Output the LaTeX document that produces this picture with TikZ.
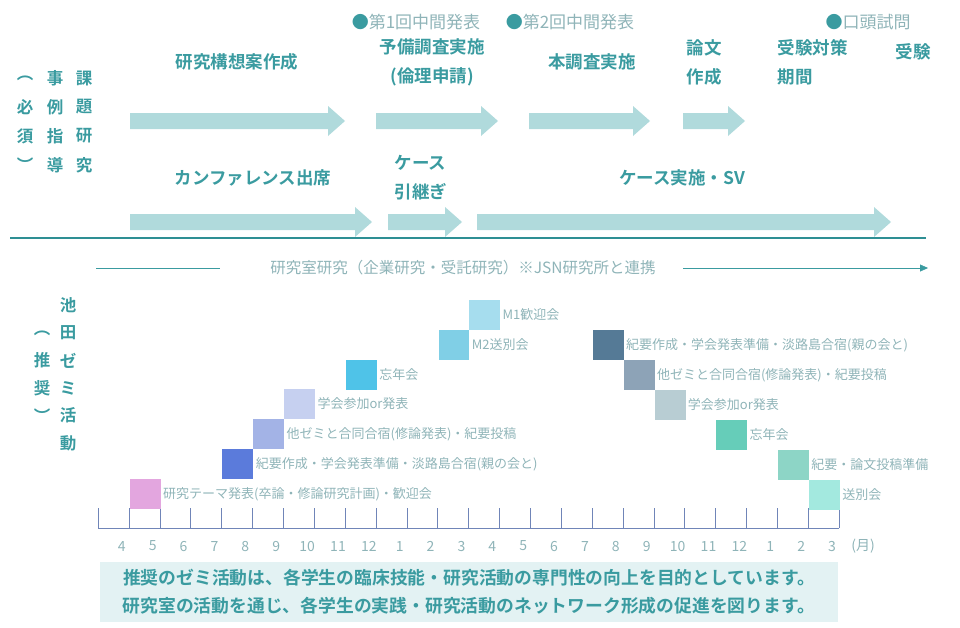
\documentclass[tikz,border=0pt]{standalone}
\usepackage{fontspec}
\setmainfont{Noto Sans CJK JP}[BoldFont={Noto Sans CJK JP Bold}]
\usetikzlibrary{arrows.meta}
\definecolor{teal1}{HTML}{3A9BA0}
\definecolor{teal2}{HTML}{2E8F94}
\definecolor{arw}{HTML}{B0DADC}
\definecolor{gry}{HTML}{8FB4B8}
\definecolor{boxbg}{HTML}{E3F2F3}
\definecolor{tick}{HTML}{7085B8}
\newcommand{\fatarrow}[3]{% x1, x2, y
  \fill[arw] (#1,#3-8) -- (#2-17,#3-8) -- (#2-17,#3-15) -- (#2,#3) -- (#2-17,#3+15) -- (#2-17,#3+8) -- (#1,#3+8) -- cycle;}

\begin{document}
\begin{tikzpicture}[x=1pt,y=-1pt,
    lbl/.style={text=teal1,font={\fontsize{17.5}{29}\selectfont\bfseries}},
    milestone/.style={text=gry,font={\fontsize{17}{20}\selectfont}},
    vtxt/.style={text=teal1,font={\fontsize{16.5}{18}\selectfont\bfseries},align=center},
    sq/.style={minimum width=30.9pt,minimum height=30pt,inner sep=0pt,draw=none},
    ev/.style={text=gry,font={\fontsize{13}{15}\selectfont},anchor=west,inner sep=2pt}]
  \useasboundingbox (0,0) rectangle (960,627);

  % left headings
  \foreach \c [count=\i] in {︵,必,須,︶} \node[vtxt] (a\i) at (25,49+29*\i) {\c};
  \foreach \c [count=\i] in {事,例,指,導} \node[vtxt] (b\i) at (55,49+29*\i) {\c};
  \foreach \c [count=\i] in {課,題,研,究} \node[vtxt] (c\i) at (84,49+29*\i) {\c};

  % milestones
  \node[milestone] (m1) at (416,22) {\textcolor{teal1}{●}第1回中間発表};
  \node[milestone] (m2) at (570,22) {\textcolor{teal1}{●}第2回中間発表};
  \node[milestone] (m3) at (868,22) {\textcolor{teal1}{●}口頭試問};

  % first row
  \node[lbl] (t1) at (237,62) {研究構想案作成};
  \node[lbl,align=center] (t2) at (432,62) {予備調査実施\\(倫理申請)};
  \node[lbl] (t3) at (592,62) {本調査実施};
  \node[lbl,align=center] (t4) at (704,62) {論文\\作成};
  \node[lbl,align=left,anchor=west] (t5) at (774,62) {受験対策\\期間};
  \node[lbl] (t6) at (913,52) {受験};
  \fatarrow{130}{345}{121}
  \fatarrow{376}{498}{121}
  \fatarrow{529}{650}{121}
  \fatarrow{683}{745}{121}

  % second row
  \node[lbl] (u1) at (253,178) {カンファレンス出席};
  \node[lbl,align=left] (u2) at (421,178) {ケース\\引継ぎ};
  \node[lbl] (u3) at (682,178) {ケース実施・SV};
  \fatarrow{130}{372}{222}
  \fatarrow{388}{462}{222}
  \fatarrow{477}{891}{222}

  \draw[teal2,line width=2pt] (10,238) -- (926,238);

  % lab research
  \node[milestone,font={\fontsize{15.5}{18}\selectfont}] (lab) at (463,268) {研究室研究（企業研究・受託研究）※JSN研究所と連携};
  \coordinate (l0) at (96,268);
  \coordinate (l1) at (220,268);
  \coordinate (l2) at (683,268);
  \coordinate (l3) at (928,268);
  \draw[teal1] (l0) -- (l1);
  \draw[teal1,-{Triangle[length=8pt,width=7pt]}] (l2) -- (l3);

  % seminar heading
  \foreach \c [count=\i] in {池,田,ゼ,ミ,活,動} \node[vtxt] (d\i) at (68,278+27.5*\i) {\c};
  \foreach \c [count=\i] in {︵,推,奨,︶} \node[vtxt] (e\i) at (42,305.5+27.5*\i) {\c};

  % timeline
  \draw[tick] (98,528) -- (839,528);
  \foreach \i in {0,...,24} \draw[tick] (98+30.875*\i,508) -- (98+30.875*\i,528);
  \foreach \m [count=\i] in {4,5,6,7,8,9,10,11,12,1,2,3,4,5,6,7,8,9,10,11,12,1,2,3}
    \node[text=gry,font={\fontsize{14}{16}\selectfont}] (mo\i) at (91+30.875*\i,546) {\m};
  \node[text=gry,font={\fontsize{14}{16}\selectfont}] (unit) at (863,546) {(月)};

  % events
  \node[sq,fill={rgb,255:red,227;green,166;blue,223}] (s1) at (145.3,494) {};
  \node[ev] at (s1.east) {研究テーマ発表(卒論・修論研究計画)・歓迎会};
  \node[sq,fill={rgb,255:red,91;green,123;blue,219}] (s2) at (237.9,464) {};
  \node[ev] at (s2.east) {紀要作成・学会発表準備・淡路島合宿(親の会と)};
  \node[sq,fill={rgb,255:red,163;green,179;blue,230}] (s3) at (268.8,434) {};
  \node[ev] at (s3.east) {他ゼミと合同合宿(修論発表)・紀要投稿};
  \node[sq,fill={rgb,255:red,198;green,208;blue,240}] (s4) at (299.7,404) {};
  \node[ev] at (s4.east) {学会参加or発表};
  \node[sq,fill={rgb,255:red,79;green,195;blue,232}] (s5) at (361.4,375) {};
  \node[ev] at (s5.east) {忘年会};
  \node[sq,fill={rgb,255:red,128;green,207;blue,230}] (s6) at (454,345) {};
  \node[ev] at (s6.east) {M2送別会};
  \node[sq,fill={rgb,255:red,166;green,221;blue,238}] (s7) at (484.8,315) {};
  \node[ev] at (s7.east) {M1歓迎会};
  \node[sq,fill={rgb,255:red,85;green,122;blue,150}] (s8) at (608.3,345) {};
  \node[ev] at (s8.east) {紀要作成・学会発表準備・淡路島合宿(親の会と)};
  \node[sq,fill={rgb,255:red,141;green,163;blue,183}] (s9) at (639.2,375) {};
  \node[ev] at (s9.east) {他ゼミと合同合宿(修論発表)・紀要投稿};
  \node[sq,fill={rgb,255:red,184;green,205;blue,211}] (s10) at (670.1,405) {};
  \node[ev] at (s10.east) {学会参加or発表};
  \node[sq,fill={rgb,255:red,102;green,205;blue,185}] (s11) at (731.8,435) {};
  \node[ev] at (s11.east) {忘年会};
  \node[sq,fill={rgb,255:red,141;green,213;blue,198}] (s12) at (793.6,465) {};
  \node[ev] at (s12.east) {紀要・論文投稿準備};
  \node[sq,fill={rgb,255:red,163;green,233;blue,223}] (s13) at (824.4,494.5) {};
  \node[ev] at (s13.east) {送別会};

  % note
  \node[fill=boxbg,minimum width=738pt,minimum height=60pt,inner sep=0pt] (note) at (469,592) {};
  \node[text=teal1,font={\fontsize{17.8}{28}\selectfont\bfseries},align=center] (notetxt) at (note.center)
    {推奨のゼミ活動は、各学生の臨床技能・研究活動の専門性の向上を目的としています。\\研究室の活動を通じ、各学生の実践・研究活動のネットワーク形成の促進を図ります。};
\end{tikzpicture}
\end{document}
